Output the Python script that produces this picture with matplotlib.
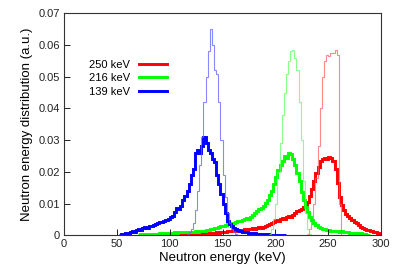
import numpy as np
import matplotlib
matplotlib.use("Agg")
import matplotlib.pyplot as plt
from matplotlib.ticker import FuncFormatter
from matplotlib.lines import Line2D

plt.rcParams['font.family'] = ['Liberation Sans', 'DejaVu Sans']

BIN = 2.0  # keV bin width

# ---- thick (measured-like) distributions ----
red_thick_start = 80
red_thick = [0.0001,0.0001,0.0002,0.0001,0.0002,0.0002,0.0001,0.0002,0.0003,0.0002,
             0.0003,0.0002,0.0003,0.0003,0.0004,0.0003,0.0004,0.0004,0.0003,0.0005,
             0.0004,0.0005,0.0004,0.0005,0.0006,0.0005,0.0006,0.0007,0.0006,0.0008,
             0.0007,0.0008,0.0009,0.0008,0.0010,0.0011,0.0010,0.0012,0.0013,0.0012,
             0.0014,0.0015,0.0014,0.0016,0.0017,0.0019,0.0018,0.0020,0.0021,0.0022,
             0.0021,0.0023,0.0025,0.0024,0.0027,0.0029,0.0032,0.0036,0.0039,0.0043,
             0.0047,0.0046,0.0050,0.0054,0.0052,0.0057,0.0060,0.0058,0.0064,0.0069,
             0.0075,0.0080,0.0082,0.0090,0.0095,0.0105,0.0125,0.0145,0.0170,0.0195,
             0.0215,0.0235,0.0240,0.0245,0.0240,0.0248,0.0242,0.0235,0.0210,0.0165,
             0.0120,0.0095,0.0080,0.0068,0.0060,0.0054,0.0048,0.0043,0.0038,0.0031,
             0.0027,0.0024,0.0020,0.0017,0.0016,0.0013,0.0010,0.0009,0.0006,0.0003]

green_thick_start = 70
green_thick = [0.0002,0.0003,0.0002,0.0003,0.0004,0.0003,0.0004,0.0005,0.0004,0.0005,
               0.0006,0.0005,0.0006,0.0007,0.0006,0.0008,0.0007,0.0009,0.0008,0.0010,
               0.0009,0.0010,0.0011,0.0010,0.0009,0.0011,0.0010,0.0012,0.0011,0.0013,
               0.0014,0.0013,0.0016,0.0017,0.0019,0.0021,0.0022,0.0024,0.0027,0.0030,
               0.0029,0.0032,0.0035,0.0038,0.0037,0.0040,0.0043,0.0046,0.0045,0.0048,
               0.0050,0.0053,0.0052,0.0058,0.0064,0.0069,0.0075,0.0082,0.0086,0.0092,
               0.0102,0.0110,0.0126,0.0140,0.0160,0.0185,0.0205,0.0220,0.0235,0.0250,
               0.0245,0.0260,0.0255,0.0240,0.0222,0.0195,0.0170,0.0135,0.0110,0.0090,
               0.0072,0.0058,0.0048,0.0040,0.0032,0.0027,0.0023,0.0020,0.0018,0.0017,
               0.0016,0.0013,0.0014,0.0012,0.0013,0.0011,0.0012,0.0010,0.0011,0.0009,
               0.0008,0.0007,0.0008,0.0006,0.0005,0.0006,0.0004,0.0003,0.0002,0.0001]

blue_thick_start = 52
blue_thick = [0.0002,0.0003,0.0005,0.0008,0.0006,0.0010,0.0012,0.0009,0.0015,0.0018,
              0.0016,0.0022,0.0025,0.0022,0.0030,0.0028,0.0033,0.0036,0.0040,0.0043,
              0.0042,0.0046,0.0048,0.0052,0.0058,0.0062,0.0072,0.0085,0.0082,0.0092,
              0.0110,0.0125,0.0140,0.0160,0.0190,0.0210,0.0260,0.0270,0.0260,0.0280,
              0.0310,0.0290,0.0270,0.0260,0.0240,0.0230,0.0190,0.0160,0.0130,0.0100,
              0.0070,0.0045,0.0035,0.0028,0.0022,0.0018,0.0015,0.0012,0.0011,0.0010,
              0.0009,0.0008,0.0007,0.0006,0.0006,0.0005,0.0005,0.0004,0.0004,0.0003,
              0.0003,0.0002,0.0002,0.0002,0.0001,0.0001,0.0001,0.0001,0.0001]

# ---- thin (narrow) distributions ----
red_thin_start = 230
red_thin = [0.0005,0.002,0.005,0.010,0.018,0.028,0.040,0.050,0.055,0.057,
            0.0565,0.0575,0.0575,0.0585,0.057,0.010,0.0]

green_thin_start = 194
green_thin = [0.0005,0.002,0.005,0.010,0.020,0.029,0.038,0.045,0.051,0.055,
              0.058,0.0585,0.056,0.052,0.042,0.030,0.017,0.007,0.002,0.0005,0.0]

blue_thin_start = 116
blue_thin = [0.0005,0.001,0.002,0.004,0.008,0.014,0.022,0.031,0.042,0.050,
             0.058,0.065,0.060,0.052,0.051,0.042,0.030,0.019,0.012,0.007,
             0.004,0.002,0.001,0.0005,0.0]

labels = ["250 keV", "216 keV", "139 keV"]
colors = ["#ff0000", "#00ff00", "#0000ff"]
thin_colors = ["#ff6060", "#60ff60", "#6060ff"]

def edges(start, vals):
    return start + BIN * np.arange(len(vals) + 1)

fig = plt.figure(figsize=(4.0, 2.8), dpi=100)
ax = fig.add_axes([0.16, 0.16, 0.7925, 0.7925])

thick = [(red_thick_start, red_thick), (green_thick_start, green_thick), (blue_thick_start, blue_thick)]
thin = [(red_thin_start, red_thin), (green_thin_start, green_thin), (blue_thin_start, blue_thin)]

for (s, v), c, lab in zip(thick, colors, labels):
    ax.stairs(v, edges(s, v), color=c, linewidth=2.1, baseline=None, label=lab)
for (s, v), c in zip(thin, thin_colors):
    ax.stairs(v, edges(s, v), color=c, linewidth=0.8, alpha=0.75, baseline=None)

ax.set_xlim(0, 300)
ax.set_ylim(0, 0.07)
ax.set_xticks(np.arange(0, 301, 50))
ax.set_yticks(np.arange(0, 0.0701, 0.01))
ax.yaxis.set_major_formatter(FuncFormatter(lambda v, p: '0' if abs(v) < 1e-9 else f'{v:.2f}'))
ax.tick_params(direction='in', length=4, width=0.7, labelsize=8, colors='#222222', pad=3)
for sp in ax.spines.values():
    sp.set_linewidth(0.8)
    sp.set_color('#333333')

ax.set_xlabel("Neutron energy (keV)", fontsize=9.5, labelpad=2)
ax.set_ylabel("Neutron energy distribution (a.u.)", fontsize=9.5, labelpad=4)

lh = [Line2D([], [], color=c, linewidth=2.1) for c in colors]
ax.legend(lh, labels, loc='upper left', bbox_to_anchor=(0.06, 0.815),
          frameon=False, markerfirst=False, fontsize=8, handlelength=2.6,
          labelspacing=0.3, borderpad=0, handletextpad=0.8)

fig.savefig("out.png", dpi=100)
